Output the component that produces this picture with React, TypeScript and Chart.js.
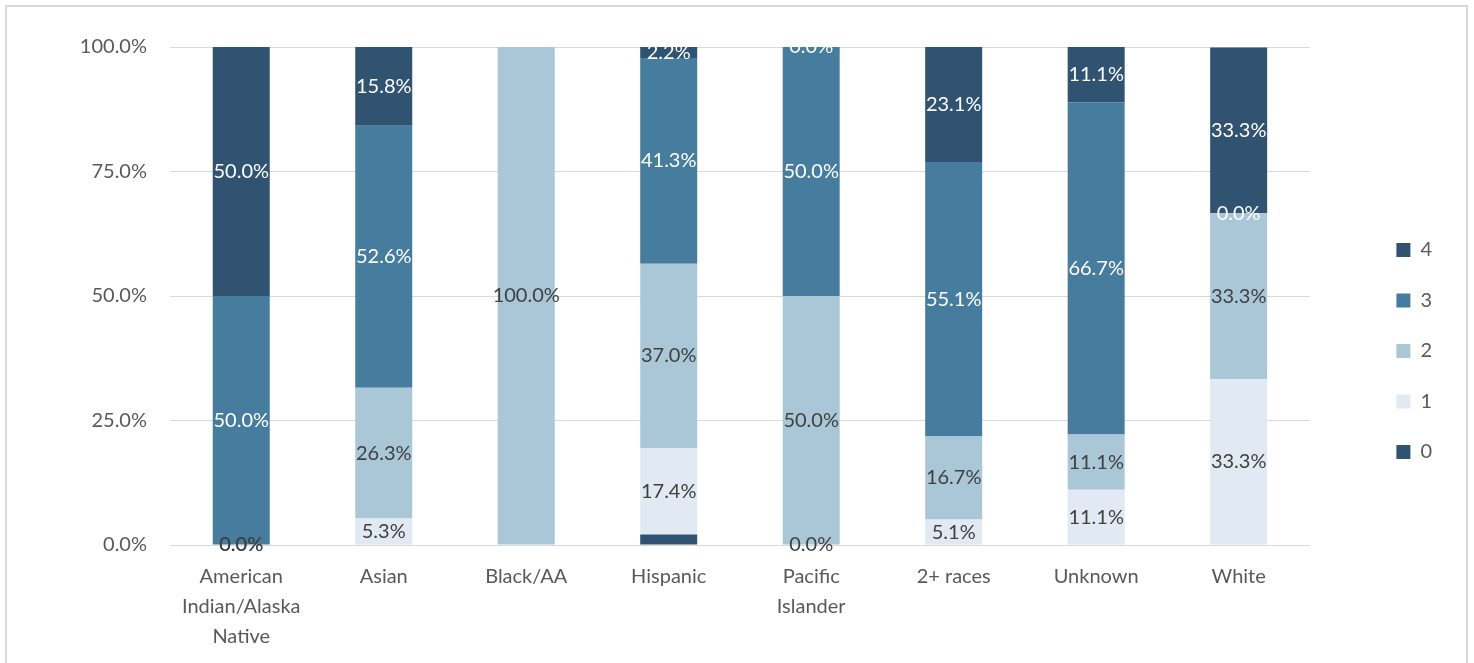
import React, { useEffect, useRef } from "react";
import { Chart, registerables } from "chart.js";

Chart.register(...registerables);

// Categories along the x axis (multi-line where the label wraps)
const categories: (string | string[])[] = [
  ["American", "Indian/Alaska", "Native"],
  "Asian",
  "Black/AA",
  "Hispanic",
  ["Pacific", "Islander"],
  "2+ races",
  "Unknown",
  "White",
];

// Share of each group (%) for each level 0..4; null = no segment
const level0: (number | null)[] = [null, null, null, 2.1, null, null, null, null];
const level1: (number | null)[] = [0, 5.3, null, 17.4, 0, 5.1, 11.1, 33.3];
const level2: (number | null)[] = [0, 26.3, 100.0, 37.0, 50.0, 16.7, 11.1, 33.3];
const level3: (number | null)[] = [50.0, 52.6, null, 41.3, 50.0, 55.1, 66.7, 0];
const level4: (number | null)[] = [50.0, 15.8, null, 2.2, 0, 23.1, 11.1, 33.3];

const levelNames = ["0", "1", "2", "3", "4"];
const yTicks = [0, 25, 50, 75, 100];

const COLORS = ["#2F5371", "#E1E9F2", "#AAC7D8", "#467C9E", "#2F5371"];
const LABEL_COLORS = [null, "#404040", "#404040", "#FFFFFF", "#FFFFFF"];
const FONT = "Lato";

// Percent labels centred in each stacked segment
const segmentLabels = {
  id: "segmentLabels",
  afterDatasetsDraw(chart: any) {
    const { ctx } = chart;
    ctx.save();
    ctx.font = `20px ${FONT}`;
    ctx.textAlign = "center";
    ctx.textBaseline = "middle";
    chart.data.datasets.forEach((ds: any, di: number) => {
      const color = LABEL_COLORS[di];
      if (!color) return;
      const meta = chart.getDatasetMeta(di);
      meta.data.forEach((el: any, i: number) => {
        const v = ds.data[i];
        if (v === null || v === undefined) return;
        const { x, y, base } = el.getProps(["x", "y", "base"], true);
        ctx.fillStyle = color;
        ctx.fillText(`${Number(v).toFixed(1)}%`, x, (y + base) / 2);
      });
    });
    ctx.restore();
  },
};

export default function App() {
  const canvasRef = useRef<HTMLCanvasElement | null>(null);

  useEffect(() => {
    if (!canvasRef.current) return;
    Chart.defaults.font.family = FONT;
    const series = [level0, level1, level2, level3, level4];
    const chart = new Chart(canvasRef.current, {
      type: "bar",
      data: {
        labels: categories,
        datasets: series.map((d, i) => ({
          label: levelNames[i],
          data: d,
          backgroundColor: COLORS[i],
          borderWidth: 0,
          categoryPercentage: 1,
          barPercentage: 0.4,
        })),
      },
      options: {
        responsive: false,
        animation: false,
        layout: { padding: { top: 47, bottom: 8, left: 0, right: 32 } },
        plugins: {
          title: { display: false },
          tooltip: { enabled: false },
          legend: {
            position: "right",
            reverse: true,
            labels: {
              boxWidth: 14,
              boxHeight: 14,
              padding: 30.5,
              color: "#595959",
              font: { family: FONT, size: 20 },
            },
          },
        },
        scales: {
          x: {
            stacked: true,
            grid: { display: false },
            border: { display: false },
            ticks: {
              color: "#595959",
              font: { family: FONT, size: 20, lineHeight: 1.5 },
              padding: 9,
              maxRotation: 0,
              autoSkip: false,
            },
            afterFit: (s: any) => {
              s.height = 110;
            },
          },
          y: {
            stacked: true,
            min: 0,
            max: 100,
            afterBuildTicks: (s: any) => {
              s.ticks = yTicks.map((v) => ({ value: v }));
            },
            grid: { color: "#D9D9D9", lineWidth: 1, drawTicks: false },
            border: { display: false },
            ticks: {
              color: "#595959",
              font: { family: FONT, size: 20 },
              padding: 23,
              callback: (v: any) => `${Number(v).toFixed(1)}%`,
            },
            afterFit: (s: any) => {
              s.width = 170;
            },
          },
          gap: {
            position: "right",
            display: true,
            grid: { display: false },
            border: { display: false },
            ticks: { display: false },
            afterFit: (s: any) => {
              s.width = 56;
            },
          },
        },
      },
      plugins: [segmentLabels],
    } as any);
    return () => chart.destroy();
  }, []);

  return (
    <div style={{ position: "absolute", left: 0, top: 0, width: 1474, height: 663, overflow: "hidden", background: "#fff" }}>
      <canvas ref={canvasRef} width={1474} height={663} style={{ position: "absolute", left: 0, top: 0 }} />
      <div
        style={{
          position: "absolute",
          left: 5,
          top: 5,
          width: 1463,
          height: 700,
          border: "2px solid #D9D9D9",
          boxSizing: "border-box",
          pointerEvents: "none",
        }}
      />
    </div>
  );
}
